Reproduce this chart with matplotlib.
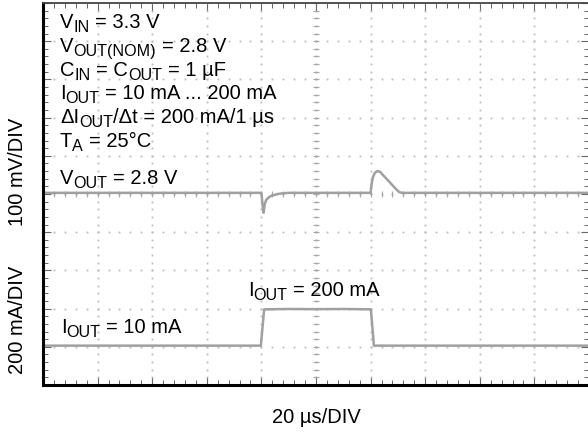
import numpy as np
import matplotlib
matplotlib.use("Agg")
import matplotlib.pyplot as plt

plt.rcParams['font.family'] = ['Liberation Sans', 'DejaVu Sans']

# scope settings
time_per_div = 20.0      # us
v_per_div = 100.0        # mV
i_per_div = 200.0        # mA
v_trace_pos = 5.03       # divisions, position of 2.8 V level
i_zero_pos = 0.98        # divisions, position of 0 mA

# load current step (us, mA)
i_time = [0, 79.8, 81.0, 90, 100, 110, 120.1, 121.2, 200]
i_out = [10, 10, 200, 202, 201, 202, 200, 10, 10]

# output voltage deviation from 2.8 V (us, mV)
v_time = [0, 80.0, 80.4, 80.8, 81.2, 81.8, 83.0, 84.5, 86.0, 88.0, 90.0,
          120.0, 120.3, 120.8, 121.5, 122.5, 123.5, 125.0, 127.0, 129.0, 130.5, 131.5, 200]
v_dev = [0, 0, -30, -52, -30, -18, -10, -6, -3, -1, 0,
         0, 20, 40, 52, 57, 55, 43, 28, 12, 2, 0, 0]

W, H = 588, 432
FS = 14.5          # main text size, pt
SUB = 0.8          # subscript scale
SUB_DROP = 4.0     # subscript baseline drop, px

fig = plt.figure(figsize=(W / 100, H / 100), dpi=100)
# plot area in pixels: left 43, top 3, bottom 385, 54.6 px per division
ax = fig.add_axes([43 / W, 1 - 385 / H, 546 / W, 382 / H])
ax.set_xlim(0, 10)
ax.set_ylim(0, 10)

# dotted graticule
grid_col = '#bcbcbc'
fine = np.arange(0, 10.01, 0.2)
for k in range(1, 10):
    if k == 5:
        continue
    ax.plot(np.full_like(fine, k), fine, ls='none', marker='s', ms=1.3, mew=0, color=grid_col)
    ax.plot(fine, np.full_like(fine, k), ls='none', marker='s', ms=1.3, mew=0, color=grid_col)

# centre cross with fine ticks
ax.plot(np.full_like(fine, 5), fine, ls='none', marker='s', ms=1.3, mew=0, color='#a0a0a0')
ax.plot(fine, np.full_like(fine, 5), ls='none', marker='s', ms=1.3, mew=0, color='#a0a0a0')
ax.plot(np.full_like(fine, 5), fine, ls='none', marker='_', ms=5, mew=0.8, color='#a8a8a8')
ax.plot(fine, np.full_like(fine, 5), ls='none', marker='|', ms=5, mew=0.8, color='#a8a8a8')

# traces
t_i = np.array(i_time) / time_per_div
y_i = i_zero_pos + np.array(i_out) / i_per_div
ax.plot(t_i, y_i, color='#a0a0a0', lw=1.8, solid_joinstyle='round')

t_v = np.array(v_time) / time_per_div
y_v = v_trace_pos + np.array(v_dev) / v_per_div
ax.plot(t_v, y_v, color='#a0a0a0', lw=1.8, solid_joinstyle='round')

# frame and edge ticks
ax.set_xticks(np.arange(0, 11, 1))
ax.set_yticks(np.arange(0, 11, 1))
ax.set_xticks(fine, minor=True)
ax.set_yticks(fine, minor=True)
ax.tick_params(which='both', direction='in', top=True, right=True,
               labelbottom=False, labelleft=False, color='#666666')
ax.tick_params(which='major', length=6, width=0.8)
ax.tick_params(which='minor', length=3.5, width=0.7)
ax.spines['left'].set_linewidth(2.2)
ax.spines['bottom'].set_linewidth(2.2)
ax.spines['top'].set_linewidth(1.3)
ax.spines['top'].set_color('#444444')
ax.spines['right'].set_visible(False)

renderer = fig.canvas.get_renderer()
space_px = 0.278 * FS * 100 / 72


def label(x, y, parts):
    """Write text pieces left to right from pixel (x, y) on the baseline.
    parts: list of (text, is_subscript); a leading space becomes a gap."""
    for s, sub in parts:
        if s.startswith(' '):
            x += space_px
            s = s[1:]
        size = FS * SUB if sub else FS
        yy = y + SUB_DROP if sub else y
        t = fig.text(x / W, 1 - yy / H, s, fontsize=size, va='baseline')
        x = t.get_window_extent(renderer).x1
    return x


label(60, 28.3, [('V', 0), ('IN', 1), (' = 3.3 V', 0)])
label(60, 52.0, [('V', 0), ('OUT(NOM)', 1), (' = 2.8 V', 0)])
label(60, 75.7, [('C', 0), ('IN', 1), (' = C', 0), ('OUT', 1), (' = 1 µF', 0)])
label(60, 99.4, [('I', 0), ('OUT', 1), (' = 10 mA ... 200 mA', 0)])
label(60, 123.0, [('ΔI', 0), ('OUT', 1), ('/Δt = 200 mA/1 µs', 0)])
label(60, 146.7, [('T', 0), ('A', 1), (' = 25°C', 0)])
label(60, 184.0, [('V', 0), ('OUT', 1), (' = 2.8 V', 0)])
label(248, 296.5, [('I', 0), ('OUT', 1), (' = 200 mA', 0)])
label(61, 332.7, [('I', 0), ('OUT', 1), (' = 10 mA', 0)])

fig.text(316.5 / W, 1 - 422.7 / H, '20 µs/DIV', fontsize=FS, ha='center', va='baseline')
fig.text(18 / W, 1 - 172 / H, '100 mV/DIV', fontsize=FS, rotation=90,
         ha='center', va='center')
fig.text(18 / W, 1 - 320 / H, '200 mA/DIV', fontsize=FS, rotation=90,
         ha='center', va='center')

fig.savefig('out.png', dpi=100)
